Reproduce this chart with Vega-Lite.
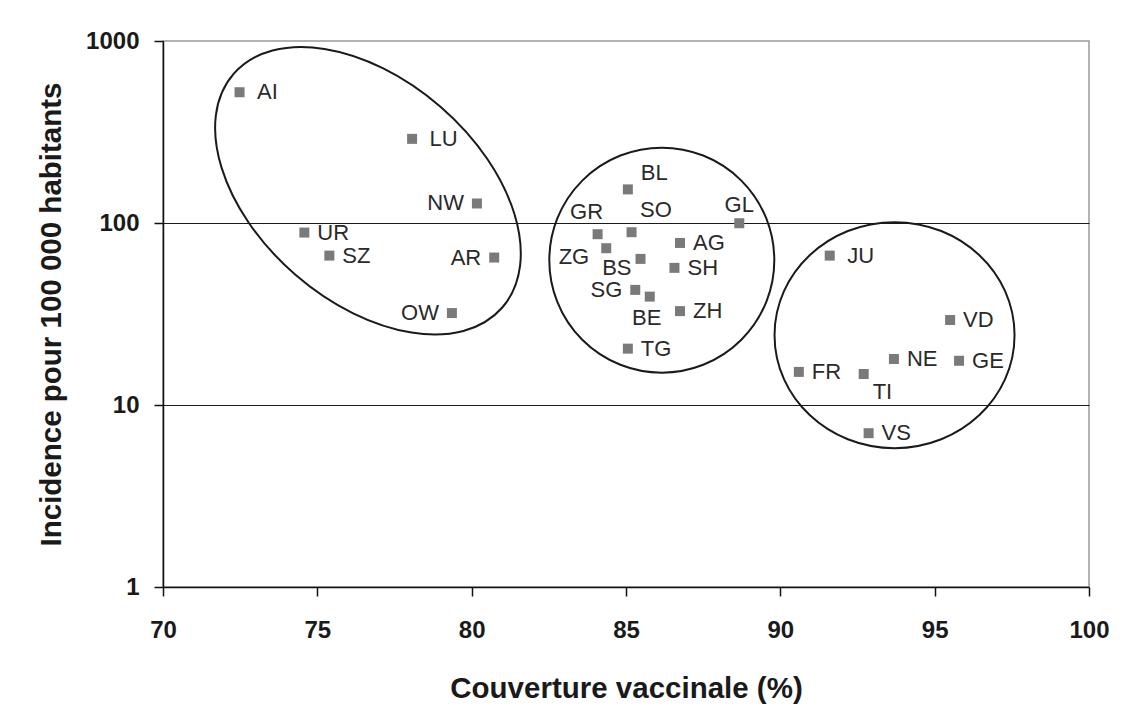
{
  "$schema": "https://vega.github.io/schema/vega-lite/v6.json",
  "width": 926,
  "height": 546,
  "autosize": "none",
  "padding": {"left": 163, "top": 41, "right": 34, "bottom": 122},
  "background": "white",
  "config": {
    "font": "Liberation Sans",
    "view": {"stroke": "#999999", "strokeWidth": 1.5},
    "text": {"font": "Liberation Sans", "fontSize": 22, "color": "#2a2a2a", "baseline": "middle"}
  },
  "datasets": {
    "cantons": [
      {"canton": "AI", "couverture": 72.48, "incidence": 523},
      {"canton": "LU", "couverture": 78.07, "incidence": 290},
      {"canton": "NW", "couverture": 80.17, "incidence": 128},
      {"canton": "UR", "couverture": 74.58, "incidence": 88.6},
      {"canton": "SZ", "couverture": 75.39, "incidence": 66.2},
      {"canton": "AR", "couverture": 80.73, "incidence": 64.6},
      {"canton": "OW", "couverture": 79.36, "incidence": 32},
      {"canton": "BL", "couverture": 85.06, "incidence": 153},
      {"canton": "GL", "couverture": 88.67, "incidence": 99.7},
      {"canton": "GR", "couverture": 84.08, "incidence": 86.8},
      {"canton": "SO", "couverture": 85.18, "incidence": 89},
      {"canton": "AG", "couverture": 86.75, "incidence": 77.7},
      {"canton": "ZG", "couverture": 84.36, "incidence": 72.7},
      {"canton": "BS", "couverture": 85.47, "incidence": 63.5},
      {"canton": "SH", "couverture": 86.57, "incidence": 56.7},
      {"canton": "SG", "couverture": 85.30, "incidence": 42.9},
      {"canton": "BE", "couverture": 85.77, "incidence": 39.4},
      {"canton": "ZH", "couverture": 86.75, "incidence": 32.8},
      {"canton": "TG", "couverture": 85.06, "incidence": 20.4},
      {"canton": "JU", "couverture": 91.60, "incidence": 66.2},
      {"canton": "VD", "couverture": 95.50, "incidence": 29.3},
      {"canton": "NE", "couverture": 93.68, "incidence": 17.9},
      {"canton": "GE", "couverture": 95.79, "incidence": 17.5},
      {"canton": "FR", "couverture": 90.60, "incidence": 15.2},
      {"canton": "TI", "couverture": 92.70, "incidence": 14.8},
      {"canton": "VS", "couverture": 92.86, "incidence": 7.0}
    ],
    "groupes": [
      {"groupe": "faible", "couverture": 76.64, "incidence": 150.4},
      {"groupe": "moyenne", "couverture": 86.16, "incidence": 62.5},
      {"groupe": "elevee", "couverture": 93.70, "incidence": 24.2}
    ]
  },
  "data": {"name": "cantons"},
  "encoding": {
    "x": {
      "field": "couverture",
      "type": "quantitative",
      "scale": {"domain": [70, 100], "nice": false, "zero": false},
      "axis": {
        "title": "Couverture vaccinale (%)",
        "values": [70, 75, 80, 85, 90, 95, 100],
        "format": "d",
        "grid": false,
        "tickSize": 9,
        "tickWidth": 1.5,
        "tickColor": "#111111",
        "domainColor": "#111111",
        "domainWidth": 1.5,
        "labelFont": "Liberation Sans",
        "labelFontSize": 24,
        "labelFontWeight": "bold",
        "labelColor": "#1a1a1a",
        "labelPadding": 22,
        "labelFlush": false,
        "labelOverlap": false,
        "titleFont": "Liberation Sans",
        "titleFontSize": 29.5,
        "titleFontWeight": "bold",
        "titleColor": "#1a1a1a",
        "titlePadding": 32
      }
    },
    "y": {
      "field": "incidence",
      "type": "quantitative",
      "scale": {"type": "log", "domain": [1, 1000], "nice": false},
      "axis": {
        "title": "Incidence pour 100 000 habitants",
        "values": [1, 10, 100, 1000],
        "format": "d",
        "grid": true,
        "gridColor": {"condition": {"test": "datum.value === 10 || datum.value === 100", "value": "#1a1a1a"}, "value": "transparent"},
        "gridWidth": 1.2,
        "tickSize": 9,
        "tickWidth": 1.5,
        "tickColor": "#111111",
        "domainColor": "#111111",
        "domainWidth": 1.5,
        "labelFont": "Liberation Sans",
        "labelFontSize": 24,
        "labelFontWeight": "bold",
        "labelColor": "#1a1a1a",
        "labelPadding": 15,
        "labelFlush": false,
        "labelOverlap": false,
        "titleFont": "Liberation Sans",
        "titleFontSize": 29.5,
        "titleFontWeight": "bold",
        "titleColor": "#1a1a1a",
        "titlePadding": 19
      }
    }
  },
  "layer": [
    {
      "data": {"name": "groupes"},
      "transform": [{"filter": "datum.groupe === 'faible'"}],
      "mark": {
        "type": "point",
        "shape": "M 1 0 C 1 0.3444 0.5523 0.6236 0 0.6236 C -0.5523 0.6236 -1 0.3444 -1 0 C -1 -0.3444 -0.5523 -0.6236 0 -0.6236 C 0.5523 -0.6236 1 -0.3444 1 0 Z",
        "size": 126736,
        "angle": 41,
        "filled": false,
        "color": "#1a1a1a",
        "strokeWidth": 2,
        "opacity": 1
      }
    },
    {
      "data": {"name": "groupes"},
      "transform": [{"filter": "datum.groupe === 'moyenne'"}],
      "mark": {
        "type": "point",
        "shape": "circle",
        "size": 50625,
        "filled": false,
        "color": "#1a1a1a",
        "strokeWidth": 2,
        "opacity": 1
      }
    },
    {
      "data": {"name": "groupes"},
      "transform": [{"filter": "datum.groupe === 'elevee'"}],
      "mark": {
        "type": "point",
        "shape": "M 1 0 C 1 0.5201 0.5523 0.9417 0 0.9417 C -0.5523 0.9417 -1 0.5201 -1 0 C -1 -0.5201 -0.5523 -0.9417 0 -0.9417 C 0.5523 -0.9417 1 -0.5201 1 0 Z",
        "size": 57600,
        "filled": false,
        "color": "#1a1a1a",
        "strokeWidth": 2,
        "opacity": 1
      }
    },
    {
      "mark": {"type": "square", "size": 100, "color": "#7a7a7a", "opacity": 1, "filled": true}
    },
    {
      "transform": [{"filter": {"field": "canton", "oneOf": ["UR", "SZ", "AG", "SH", "ZH", "TG", "VD", "NE", "GE", "FR", "VS"]}}],
      "mark": {"type": "text", "align": "left", "dx": 13, "dy": 0},
      "encoding": {"text": {"field": "canton"}}
    },
    {
      "transform": [{"filter": {"field": "canton", "oneOf": ["AI", "LU", "JU"]}}],
      "mark": {"type": "text", "align": "left", "dx": 17.5, "dy": 0},
      "encoding": {"text": {"field": "canton"}}
    },
    {
      "transform": [{"filter": {"field": "canton", "oneOf": ["NW", "AR", "OW", "SG"]}}],
      "mark": {"type": "text", "align": "right", "dx": -13, "dy": 0},
      "encoding": {"text": {"field": "canton"}}
    },
    {
      "transform": [{"filter": {"field": "canton", "oneOf": ["ZG"]}}],
      "mark": {"type": "text", "align": "right", "dx": -17, "dy": 9},
      "encoding": {"text": {"field": "canton"}}
    },
    {
      "transform": [{"filter": {"field": "canton", "oneOf": ["BS"]}}],
      "mark": {"type": "text", "align": "right", "dx": -9, "dy": 9.5},
      "encoding": {"text": {"field": "canton"}}
    },
    {
      "transform": [{"filter": {"field": "canton", "oneOf": ["BL"]}}],
      "mark": {"type": "text", "align": "left", "dx": 13, "dy": -16},
      "encoding": {"text": {"field": "canton"}}
    },
    {
      "transform": [{"filter": {"field": "canton", "oneOf": ["SO"]}}],
      "mark": {"type": "text", "align": "left", "dx": 8.5, "dy": -22.5},
      "encoding": {"text": {"field": "canton"}}
    },
    {
      "transform": [{"filter": {"field": "canton", "oneOf": ["GL"]}}],
      "mark": {"type": "text", "align": "center", "dx": 0, "dy": -18},
      "encoding": {"text": {"field": "canton"}}
    },
    {
      "transform": [{"filter": {"field": "canton", "oneOf": ["GR"]}}],
      "mark": {"type": "text", "align": "center", "dx": -11, "dy": -22},
      "encoding": {"text": {"field": "canton"}}
    },
    {
      "transform": [{"filter": {"field": "canton", "oneOf": ["BE"]}}],
      "mark": {"type": "text", "align": "center", "dx": -3, "dy": 21},
      "encoding": {"text": {"field": "canton"}}
    },
    {
      "transform": [{"filter": {"field": "canton", "oneOf": ["TI"]}}],
      "mark": {"type": "text", "align": "left", "dx": 9, "dy": 18},
      "encoding": {"text": {"field": "canton"}}
    }
  ]
}
